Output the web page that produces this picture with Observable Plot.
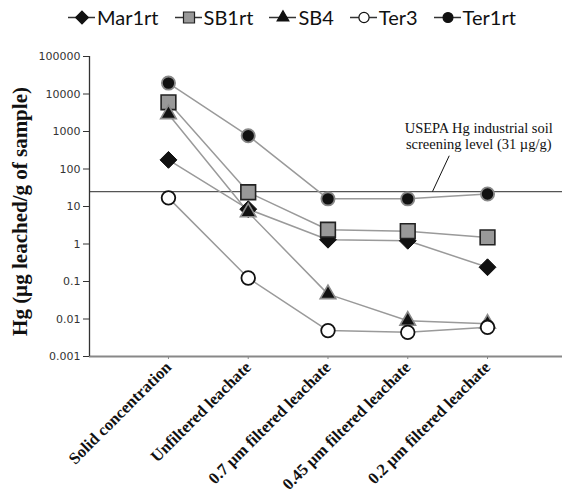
<!DOCTYPE html>
<html>
<head>
<meta charset="utf-8">
<script src="https://cdn.jsdelivr.net/npm/d3@7"></script>
<script src="https://cdn.jsdelivr.net/npm/@observablehq/plot@0.6"></script>
<style>
  html, body { margin: 0; padding: 0; background: #fff; }
  #wrap { width: 562px; height: 494px; overflow: hidden; }
  #legend { height: 34px; display: flex; align-items: center; padding-left: 68px; gap: 16px;
            font-family: Lato, "Open Sans", sans-serif; font-size: 20px; color: #111; }
  #legend .item { display: flex; align-items: center; gap: 2px; }
  #legend svg { display: block; }
  #chart svg { display: block; overflow: visible; }
  #chart [aria-label="x-axis tick label"] text { font-family: "Liberation Serif", serif; font-weight: bold; font-size: 16.5px; fill: #111; }
  #chart [aria-label="y-axis tick label"] text { font-family: "DejaVu Sans", sans-serif; font-size: 11px; fill: #333; }
</style>
</head>
<body>
<div id="wrap">
  <div id="legend"></div>
  <div id="chart"></div>
</div>
<script>
// ---- data ----
const categories = ["Solid concentration", "Unfiltered leachate", "0.7 µm filtered leachate", "0.45 µm filtered leachate", "0.2 µm filtered leachate"];
const seriesNames = ["Mar1rt", "SB1rt", "SB4", "Ter3", "Ter1rt"];
const Mar1rt = [175, 8.5, 1.3, 1.22, 0.24];
const SB1rt  = [6000, 24, 2.4, 2.2, 1.5];
const SB4    = [2900, 7, 0.046, 0.009, 0.0075];
const Ter3   = [17, 0.124, 0.0049, 0.0044, 0.006];
const Ter1rt = [19500, 770, 16, 16, 21.5];
const yTicks = [0.001, 0.01, 0.1, 1, 10, 100, 1000, 10000, 100000];
const threshold = 25;
const annotationText = "USEPA Hg industrial soil\nscreening level (31 µg/g)";
const annotationAt = {x: 3.89, y: 780};
const leader = {x1: 3.52, y1: 226, x2: 3.31, y2: threshold};

const values = {Mar1rt, SB1rt, SB4, Ter3, Ter1rt};
const rows = seriesNames.flatMap(s => values[s].map((v, i) => ({series: s, i, value: v})));

const styles = {
  Mar1rt: {symbol: "diamond2", r: 7.6, fill: "#111", stroke: "#111", strokeWidth: 1},
  SB1rt:  {symbol: "square", r: 8.3, fill: "#999", stroke: "#222", strokeWidth: 1.6},
  SB4:    {symbol: "triangle", r: 5.8, fill: "#111", stroke: "#8a8a8a", strokeWidth: 1.6},
  Ter3:   {symbol: "circle", r: 6.8, fill: "#fff", stroke: "#111", strokeWidth: 1.8},
  Ter1rt: {symbol: "circle", r: 6.6, fill: "#111", stroke: "#888", strokeWidth: 1.8}
};

// ---- legend ----
const legend = document.getElementById("legend");
for (const s of seriesNames) {
  const st = styles[s];
  const item = document.createElement("div");
  item.className = "item";
  const sym = Plot.dot([0], {x: () => 13.5, y: () => 8, symbol: () => st.symbol, r: st.r * 0.75,
      fill: st.fill, stroke: s === "SB4" || s === "Ter1rt" ? "#111" : st.stroke, strokeWidth: 1.2});
  const svg = Plot.plot({
    width: 27, height: 16, margin: 0, axis: null,
    x: {type: "identity"}, y: {type: "identity"}, symbol: {type: "identity"},
    marks: [
      Plot.ruleY([8], {y: d => d, x1: () => 0, x2: () => 27, stroke: "#333", strokeWidth: 1.5}),
      sym
    ]
  });
  item.appendChild(svg);
  const label = document.createElement("span");
  label.textContent = s;
  item.appendChild(label);
  legend.appendChild(item);
}

// ---- chart ----
const xDomain = [-0.99, 4.94];
const chart = Plot.plot({
  width: 562,
  height: 460,
  marginLeft: 89,
  marginRight: 0,
  marginTop: 22,
  marginBottom: 138,
  x: {type: "linear", domain: xDomain},
  y: {type: "log", domain: [0.001, 100000]},
  marks: [
    Plot.ruleY([threshold], {stroke: "#555", strokeWidth: 1.3}),
    Plot.link([leader], {x1: "x1", y1: "y1", x2: "x2", y2: "y2", stroke: "#111", strokeWidth: 1}),
    Plot.text([annotationText], {x: () => annotationAt.x, y: () => annotationAt.y, text: d => d,
      textAnchor: "middle", lineAnchor: "middle", lineHeight: 1.12, fontSize: 14.5,
      fontFamily: "Liberation Serif, serif", fill: "#111"}),
    ...seriesNames.map(s => Plot.line(rows.filter(d => d.series === s), {x: "i", y: "value", stroke: "#9a9a9a", strokeWidth: 1.5})),
    ...seriesNames.map(s => {
      const st = styles[s];
      return Plot.dot(rows.filter(d => d.series === s), {x: "i", y: "value", symbol: () => st.symbol, r: st.r,
        fill: st.fill, stroke: st.stroke, strokeWidth: st.strokeWidth});
    }),
    Plot.ruleY([0.001], {stroke: "#888", strokeWidth: 2}),
    Plot.ruleX([xDomain[0]], {stroke: "#333", strokeWidth: 1.3}),
    Plot.axisY({ticks: yTicks, tickFormat: d => String(d), tickSize: 6, tickPadding: 3, stroke: "#333", label: null}),
    Plot.axisX({ticks: [0, 1, 2, 3, 4], tickFormat: i => categories[i], tickSize: 3, tickPadding: 5,
      tickRotate: -45, stroke: "#888", label: null}),
    Plot.text(["Hg (µg leached/g of sample)"], {frameAnchor: "left", dx: -69, dy: 5, rotate: -90, text: d => d,
      textAnchor: "middle", fontSize: 21, fontWeight: "bold", fontFamily: "Liberation Serif, serif", fill: "#111", lineAnchor: "middle"})
  ]
});
document.getElementById("chart").appendChild(chart);
</script>
</body>
</html>
